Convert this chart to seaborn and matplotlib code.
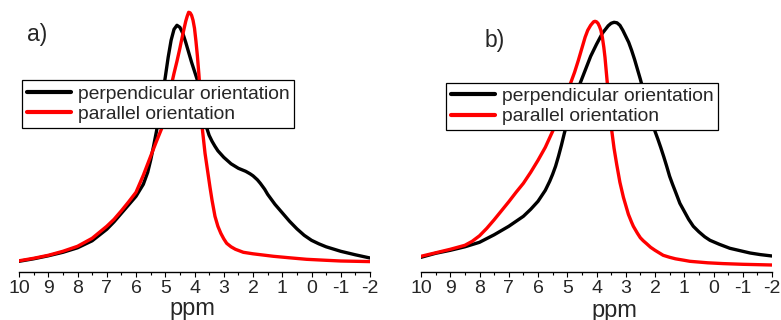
import matplotlib
matplotlib.use("Agg")
import matplotlib.pyplot as plt
import seaborn as sns
import pandas as pd
from matplotlib.ticker import MultipleLocator

# ---------------- data (intensity in a.u.) ----------------
ppm_a_perp = [10.0, 9.5, 9.0, 8.5, 8.0, 7.5, 7.0, 6.75, 6.5, 6.25, 6.0, 5.75, 5.6, 5.5,
              5.4, 5.3, 5.2, 5.1, 5.0, 4.9, 4.8, 4.7, 4.6, 4.5, 4.4, 4.3, 4.2, 4.1, 4.0,
              3.9, 3.8, 3.7, 3.6, 3.5, 3.4, 3.3, 3.2, 3.0, 2.75, 2.5, 2.25, 2.1, 2.0,
              1.85, 1.75, 1.6, 1.5, 1.35, 1.25, 1.0, 0.75, 0.5, 0.25, 0.0, -0.25, -0.5,
              -1.0, -1.5, -2.0]
int_a_perp = [11, 13.5, 16.5, 20, 24.5, 31.5, 43, 50.5, 59, 67.5, 76, 88, 100, 112,
              126, 141, 158, 176, 195, 215, 232, 243, 247, 245, 239, 230, 220, 210, 201,
              192, 178, 160, 146, 137, 131, 126, 121.5, 115, 108.5, 104, 101, 98.5, 96.5,
              92.5, 89, 83, 78, 72, 68, 59.5, 51, 43.5, 37, 32, 28.5, 25.5,
              21, 17.5, 14.3]

ppm_a_par = [10.0, 9.5, 9.0, 8.5, 8.0, 7.5, 7.0, 6.75, 6.5, 6.25, 6.0, 5.75, 5.5, 5.3,
             5.12, 5.0, 4.9, 4.8, 4.7, 4.6, 4.5, 4.4, 4.3, 4.25, 4.2, 4.15, 4.1, 4.05,
             4.0, 3.95, 3.9, 3.85, 3.8, 3.75, 3.7, 3.64, 3.55, 3.47, 3.4, 3.3, 3.2, 3.1,
             3.0, 2.9, 2.75, 2.6, 2.33, 2.0, 1.3, 0.75, 0.17, -0.5, -1.0, -1.5, -2.0]
int_a_par = [11.5, 14, 17, 21, 26, 34, 46, 53, 61.5, 70.5, 80, 97, 116, 131,
             144, 160, 173, 186, 199, 211, 224, 238, 251, 256, 260, 259.5, 257, 252,
             244, 231, 216, 198, 177, 148, 135, 119, 101, 85, 72, 56, 46, 39,
             33.5, 29, 25.5, 23, 20, 18.5, 16, 14.5, 13, 12, 11.3, 11, 10.7]

ppm_b_perp = [10.0, 9.5, 9.0, 8.5, 8.0, 7.5, 7.0, 6.5, 6.25, 6.0, 5.75, 5.6, 5.5, 5.4,
              5.3, 5.2, 5.1, 5.0, 4.9, 4.75, 4.6, 4.4, 4.2, 4.0, 3.8, 3.6, 3.5, 3.4,
              3.3, 3.2, 3.1, 3.0, 2.9, 2.8, 2.7, 2.6, 2.5, 2.4, 2.3, 2.2, 2.1, 2.0,
              1.9, 1.8, 1.7, 1.6, 1.5, 1.4, 1.3, 1.15, 1.0, 0.85, 0.69, 0.5, 0.3,
              0.12, -0.2, -0.56, -1.0, -1.25, -1.6, -2.0]
int_b_perp = [15, 19, 22, 25.5, 30, 37.5, 46, 56, 63, 71, 82, 91, 98, 106,
              116, 127, 139, 150, 160, 174, 186, 201, 216, 228, 239, 246.5, 249, 250,
              249.5, 247, 242, 236, 230, 222, 213, 203, 193, 182, 171, 160, 150, 141,
              133, 124.5, 115.5, 106, 96, 88, 80.5, 69, 61, 53, 46, 40.5, 35.5,
              32, 28, 24, 21, 19.3, 17.7, 16.3]

ppm_b_par = [10.0, 9.5, 9.0, 8.5, 8.25, 8.0, 7.75, 7.5, 7.25, 7.0, 6.75, 6.5, 6.25, 6.0,
             5.75, 5.5, 5.25, 5.0, 4.9, 4.75, 4.62, 4.5, 4.39, 4.3, 4.2, 4.1, 4.05, 4.0,
             3.95, 3.9, 3.85, 3.8, 3.75, 3.71, 3.67, 3.63, 3.56, 3.48, 3.4, 3.31, 3.2,
             3.08, 3.0, 2.91, 2.8, 2.74, 2.6, 2.5, 2.4, 2.29, 2.15, 2.0, 1.72, 1.5, 1.3,
             1.0, 0.81, 0.2, -0.33, -1.0, -2.0]
int_b_par = [16, 19.5, 23, 27, 31, 36.5, 44, 52.5, 61.5, 70.5, 80, 89, 100, 112,
             125, 141, 158, 178, 188, 200, 212, 224, 235, 242, 247, 250.5, 251, 250.5,
             249, 246, 242, 235, 225, 215, 202, 189, 166, 142, 124, 108, 90,
             75, 67, 58, 50, 46, 39, 34.5, 31.5, 28.7, 25, 22, 17, 15, 13.5,
             12, 11, 9.5, 8.7, 8, 7.3]

series_labels = ["perpendicular orientation", "parallel orientation"]
panel_labels = ["a)", "b)"]
xticks = [10, 9, 8, 7, 6, 5, 4, 3, 2, 1, 0, -1, -2]

# ---------------- style ----------------
sns.set_style("white")
plt.rcParams["font.family"] = ["Liberation Sans", "DejaVu Sans"]
plt.rcParams["axes.unicode_minus"] = False

W, H = 781, 320
fig = plt.figure(figsize=(W / 100, H / 100), dpi=100)

def px_ax(x0, x1, ytop, ybot):
    return fig.add_axes([x0 / W, (H - ybot) / H, (x1 - x0) / W, (ybot - ytop) / H])

ax_a = px_ax(19, 370, 5, 272.3)
ax_b = px_ax(421, 772, 5, 272.3)

panels = [
    (ax_a, ppm_a_perp, int_a_perp, ppm_a_par, int_a_par),
    (ax_b, ppm_b_perp, int_b_perp, ppm_b_par, int_b_par),
]

for ax, xp, yp, xq, yq in panels:
    dfp = pd.DataFrame({"ppm": xp, "I": yp})
    dfq = pd.DataFrame({"ppm": xq, "I": yq})
    sns.lineplot(data=dfp, x="ppm", y="I", color="#000000", lw=2.4, ax=ax,
                 label=series_labels[0])
    sns.lineplot(data=dfq, x="ppm", y="I", color="#ff0000", lw=2.4, ax=ax,
                 label=series_labels[1])
    for ln in ax.get_lines():
        ln.set_solid_joinstyle("round")
        ln.set_solid_capstyle("round")
    ax.set_xlim(10, -2)
    ax.set_ylim(0, 267.3)
    ax.set_ylabel("")
    ax.set_yticks([])
    for s in ["left", "right", "top"]:
        ax.spines[s].set_visible(False)
    ax.spines["bottom"].set_color("black")
    ax.spines["bottom"].set_linewidth(1.0)
    ax.set_xticks(xticks)
    ax.set_xticklabels([str(t) for t in xticks])
    ax.xaxis.set_minor_locator(MultipleLocator(0.5))
    ax.tick_params(axis="x", which="major", direction="out", length=3.5, width=0.8,
                   color="black", labelsize=14, pad=2, bottom=True)
    ax.tick_params(axis="x", which="minor", direction="out", length=2, width=0.8,
                   color="black", bottom=True)
    ax.set_facecolor("white")

ax_a.set_xlabel("ppm", fontsize=17)
ax_b.set_xlabel("ppm", fontsize=17)
ax_a.xaxis.set_label_coords((192 - 19) / 351, -0.095)
ax_b.xaxis.set_label_coords((614.7 - 421) / 351, -0.105)

# panel labels
fig.text(27 / W, 1 - 35 / H, panel_labels[0], fontsize=16.5, va="center", ha="left")
fig.text(485 / W, 1 - 41 / H, panel_labels[1], fontsize=16.5, va="center", ha="left")

# legends
for ax, lx, ly in [(ax_a, 21.7, 80.3), (ax_b, 445.7, 82.7)]:
    leg = ax.legend(loc="upper left", bbox_to_anchor=(lx / W, 1 - ly / H),
                    bbox_transform=fig.transFigure, borderaxespad=0,
                    fontsize=13.9, frameon=True, fancybox=False, framealpha=1,
                    edgecolor="black", handlelength=2.3, handletextpad=0.35,
                    borderpad=0.25, labelspacing=0.15)
    leg.get_frame().set_linewidth(0.9)
    for h in leg.get_lines():
        h.set_linewidth(3)

fig.savefig("out.png", dpi=100, facecolor="white")
